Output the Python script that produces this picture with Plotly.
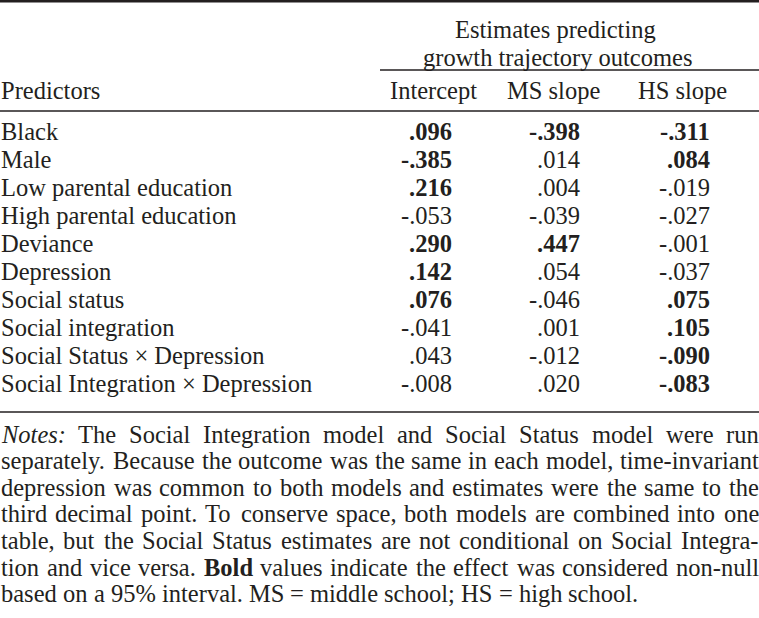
import plotly.graph_objects as go

# ---- data ----
predictors = [
    "Black", "Male", "Low parental education", "High parental education",
    "Deviance", "Depression", "Social status", "Social integration",
    "Social Status × Depression", "Social Integration × Depression",
]
intercept = [0.096, -0.385, 0.216, -0.053, 0.290, 0.142, 0.076, -0.041, 0.043, -0.008]
ms_slope = [-0.398, 0.014, 0.004, -0.039, 0.447, 0.054, -0.046, 0.001, -0.012, 0.020]
hs_slope = [-0.311, 0.084, -0.019, -0.027, -0.001, -0.037, 0.075, 0.105, -0.090, -0.083]
intercept_bold = [1, 1, 1, 0, 1, 1, 1, 0, 0, 0]
ms_bold = [1, 0, 0, 0, 1, 0, 0, 0, 0, 0]
hs_bold = [1, 1, 0, 0, 0, 0, 1, 1, 1, 1]
col_headers = ["Intercept", "MS slope", "HS slope"]
span_header = ["Estimates predicting", "growth trajectory outcomes"]
stub_header = "Predictors"
notes_lines = [
    "<i>Notes:</i> The Social Integration model and Social Status model were run",
    "separately. Because the outcome was the same in each model, time-invariant",
    "depression was common to both models and estimates were the same to the",
    "third decimal point. To conserve space, both models are combined into one",
    "table, but the Social Status estimates are not conditional on Social Integra-",
    "tion and vice versa. <b>Bold</b> values indicate the effect was considered non-null",
    "based on a 95% interval. MS = middle school; HS = high school.",
]

# ---- layout constants ----
W, H = 759, 618
FONT = "Liberation Serif"
FS = 24.5
INK = "#231f20"
col_right = [453, 581, 711]
col_center = [433, 553, 682]
row0_y, row_step = 131, 28
notes_y0, notes_step = 434, 26.6
notes_left, notes_right = 0, 758

# Times (Liberation Serif metric-compatible) advance widths, per 1000 em
TIMES = {
    ' ': 250, '.': 250, ',': 250, ';': 278, ':': 278, '-': 333, '%': 833, '=': 564,
    '0': 500, '1': 500, '2': 500, '3': 500, '4': 500, '5': 500, '6': 500, '7': 500,
    '8': 500, '9': 500,
    'A': 722, 'B': 667, 'C': 667, 'D': 722, 'E': 611, 'F': 556, 'G': 722, 'H': 722,
    'I': 333, 'J': 389, 'K': 722, 'L': 611, 'M': 889, 'N': 722, 'O': 722, 'P': 556,
    'Q': 722, 'R': 667, 'S': 556, 'T': 611, 'U': 722, 'V': 722, 'W': 944, 'X': 722,
    'Y': 722, 'Z': 611,
    'a': 444, 'b': 500, 'c': 444, 'd': 500, 'e': 444, 'f': 333, 'g': 500, 'h': 500,
    'i': 278, 'j': 278, 'k': 500, 'l': 278, 'm': 778, 'n': 500, 'o': 500, 'p': 500,
    'q': 500, 'r': 333, 's': 389, 't': 278, 'u': 500, 'v': 500, 'w': 722, 'x': 500,
    'y': 500, 'z': 444,
}
TIMES_BOLD = {'B': 667, 'o': 500, 'l': 278, 'd': 556}
TIMES_ITALIC = {'N': 667, 'o': 500, 't': 278, 'e': 444, 's': 389, ':': 333}


def word_width(w):
    if w.startswith("<b>"):
        core, table = w[3:-4], TIMES_BOLD
    elif w.startswith("<i>"):
        core, table = w[3:-4], TIMES_ITALIC
    else:
        core, table = w, TIMES
    return sum(table.get(c, TIMES.get(c, 500)) for c in core) * FS / 1000.0


def fmt(v):
    s = f"{abs(v):.3f}".lstrip("0")
    return ("-" if v < 0 else "") + s


fig = go.Figure()
ann = []


def add_text(x, y, text, xanchor="left"):
    ann.append(dict(x=x, y=y, xref="x", yref="y", text=text, showarrow=False,
                    xanchor=xanchor, yanchor="middle", borderpad=0,
                    font=dict(family=FONT, size=FS, color=INK)))


# headers
add_text(555, 29, span_header[0], "center")
add_text(557, 57, span_header[1], "center")
add_text(0, 90, stub_header)
for c, h in zip(col_center, col_headers):
    add_text(c, 90, h, "center")

# body
cols = [(intercept, intercept_bold), (ms_slope, ms_bold), (hs_slope, hs_bold)]
for i, p in enumerate(predictors):
    y = row0_y + i * row_step
    add_text(0, y, p)
    for (vals, bolds), xr in zip(cols, col_right):
        t = fmt(vals[i])
        if bolds[i]:
            t = f"<b>{t}</b>"
        add_text(xr, y, t, "right")

# notes (justified, last line ragged)
for j, line in enumerate(notes_lines):
    y = notes_y0 + j * notes_step
    words = line.split(" ")
    widths = [word_width(w) for w in words]
    space = TIMES[' '] * FS / 1000.0
    if j < len(notes_lines) - 1 and len(words) > 1:
        gap = (notes_right - notes_left - sum(widths)) / (len(words) - 1)
    else:
        gap = space
    x = notes_left
    for w, ww in zip(words, widths):
        add_text(x, y, w)
        x += ww + gap

shapes = [
    dict(type="line", x0=0, x1=W, y0=1.2, y1=1.2, line=dict(color=INK, width=2.5)),
    dict(type="line", x0=380, x1=W, y0=70, y1=70, line=dict(color=INK, width=1.5)),
    dict(type="line", x0=0, x1=W, y0=111, y1=111, line=dict(color=INK, width=1.5)),
    dict(type="line", x0=0, x1=W, y0=412, y1=412, line=dict(color=INK, width=1.5)),
]
for s in shapes:
    s.update(xref="x", yref="y")

fig.update_layout(
    width=W, height=H,
    margin=dict(l=0, r=0, t=0, b=0),
    paper_bgcolor="white", plot_bgcolor="white",
    xaxis=dict(range=[0, W], visible=False, fixedrange=True),
    yaxis=dict(range=[H, 0], visible=False, fixedrange=True),
    annotations=ann, shapes=shapes, showlegend=False,
)
fig.write_html(
    "out.html",
    config={"displayModeBar": False},
    post_script="document.body.style.margin='0';document.body.style.overflow='hidden';",
)
